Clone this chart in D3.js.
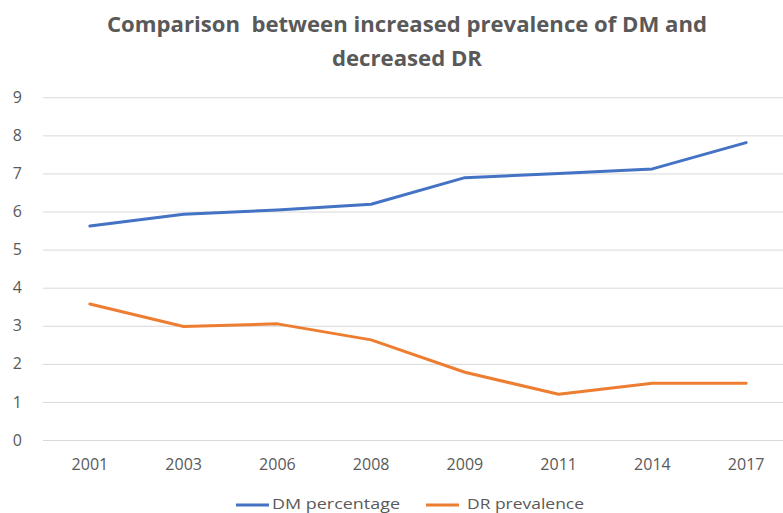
<!DOCTYPE html>
<html>
<head>
<meta charset="utf-8">
<script src="https://cdn.jsdelivr.net/npm/d3@7"></script>
<style>
  html, body { margin: 0; padding: 0; background: #fff; }
  svg { display: block; }
  text { font-family: "Open Sans", "Noto Sans", sans-serif; fill: #595959; }
</style>
</head>
<body>
<svg id="chart" width="783" height="513"></svg>
<script>
// Survey years
const years = ["2001", "2003", "2006", "2008", "2009", "2011", "2014", "2017"];
// Diabetes mellitus prevalence (%)
const dmPercentage = [5.62, 5.93, 6.04, 6.19, 6.89, 7.0, 7.12, 7.81];
// Diabetic retinopathy prevalence (%)
const drPrevalence = [3.57, 2.98, 3.05, 2.63, 1.78, 1.2, 1.49, 1.49];
// Value axis ticks
const yTicks = [0, 1, 2, 3, 4, 5, 6, 7, 8, 9];

const seriesNames = ["DM percentage", "DR prevalence"];
const seriesColors = ["#4472C4", "#ED7D31"];

const svg = d3.select("#chart");
const plot = { left: 43, right: 793, top: 97.3, bottom: 440 };

const x = d3.scaleBand().domain(years).range([plot.left, plot.right]);
const y = d3.scaleLinear().domain([0, 9]).range([plot.bottom, plot.top]);

// Title
const title = svg.append("g");
title.append("text")
  .attr("x", 407).attr("y", 32)
  .attr("text-anchor", "middle")
  .attr("font-size", 21).attr("font-weight", "bold")
  .style("white-space", "pre")
  .attr("textLength", 600).attr("lengthAdjust", "spacingAndGlyphs")
  .text("Comparison  between increased prevalence of DM and");
title.append("text")
  .attr("x", 407).attr("y", 66)
  .attr("text-anchor", "middle")
  .attr("font-size", 21).attr("font-weight", "bold")
  .attr("textLength", 150).attr("lengthAdjust", "spacingAndGlyphs")
  .text("decreased DR");

// Horizontal gridlines
svg.append("g")
  .attr("transform", `translate(${plot.left},0)`)
  .call(d3.axisLeft(y).tickValues(yTicks).tickSize(-(plot.right - plot.left)).tickFormat(""))
  .call(g => g.select(".domain").remove())
  .call(g => g.selectAll(".tick line").attr("stroke", "#d9d9d9").attr("stroke-width", 1));

// Y axis labels
svg.append("g")
  .attr("transform", `translate(${plot.left},0)`)
  .call(d3.axisLeft(y).tickValues(yTicks).tickSize(0).tickPadding(21).tickFormat(d3.format("d")))
  .call(g => g.select(".domain").remove())
  .call(g => g.selectAll(".tick text")
    .attr("font-size", 16)
    .attr("font-family", "'Open Sans', sans-serif")
    .attr("fill", "#595959"));

// X axis labels
svg.append("g")
  .attr("transform", `translate(0,${plot.bottom})`)
  .call(d3.axisBottom(x).tickSize(0).tickPadding(19))
  .call(g => g.select(".domain").remove())
  .call(g => g.selectAll(".tick text")
    .attr("font-size", 16)
    .attr("font-family", "'Open Sans', sans-serif")
    .attr("fill", "#595959"));

// Series lines
const line = d3.line()
  .x((d, i) => x(years[i]) + x.bandwidth() / 2)
  .y(d => y(d));

[dmPercentage, drPrevalence].forEach((vals, k) => {
  svg.append("path")
    .datum(vals)
    .attr("fill", "none")
    .attr("stroke", seriesColors[k])
    .attr("stroke-width", 3)
    .attr("stroke-linejoin", "round")
    .attr("stroke-linecap", "round")
    .attr("d", line);
});

// Legend
const legendItems = [
  { x: 236, tx: 272, w: 128 },
  { x: 426, tx: 467, w: 117 }
];
const legend = svg.append("g");
legendItems.forEach((it, k) => {
  legend.append("line")
    .attr("x1", it.x).attr("x2", it.x + 33)
    .attr("y1", 505).attr("y2", 505)
    .attr("stroke", seriesColors[k]).attr("stroke-width", 3);
  legend.append("text")
    .attr("x", it.tx).attr("y", 509)
    .attr("font-size", 15)
    .attr("textLength", it.w).attr("lengthAdjust", "spacingAndGlyphs")
    .text(seriesNames[k]);
});
</script>
</body>
</html>
